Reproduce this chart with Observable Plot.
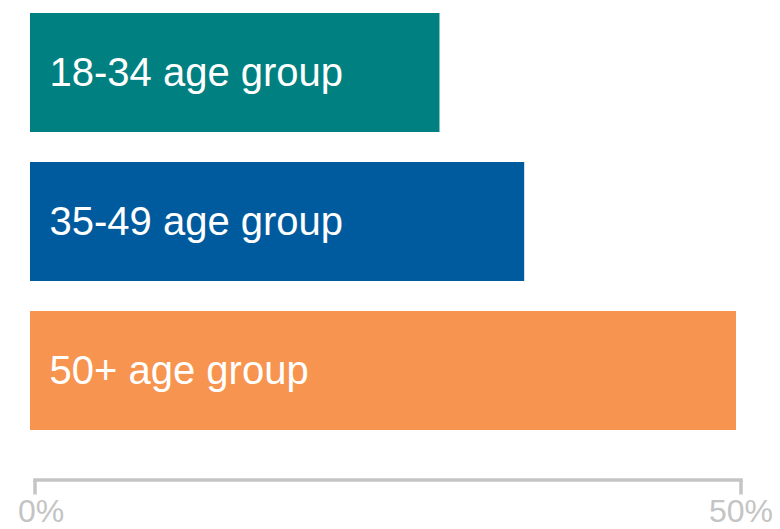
<!DOCTYPE html>
<html>
<head>
<meta charset="utf-8">
<script src="https://cdn.jsdelivr.net/npm/d3@7"></script>
<script src="https://cdn.jsdelivr.net/npm/@observablehq/plot@0.6"></script>
<style>
  html, body { margin: 0; padding: 0; background: #fff; }
</style>
</head>
<body>
<div id="chart"></div>
<script>
const groups = ["18-34 age group", "35-49 age group", "50+ age group"];
const shares = [29, 35, 50];
const colors = ["#008080", "#005b9e", "#f79550"];
const xTicks = [0, 50];

const data = groups.map((g, i) => ({group: g, share: shares[i]}));
const fmt = d => d + "%";
const grey = "#c4c4c4";

const chart = Plot.plot({
  width: 780,
  height: 529,
  marginTop: 0,
  marginLeft: 30,
  marginRight: 44,
  marginBottom: 49.5,
  style: {fontFamily: "'Liberation Sans', Arial, sans-serif", background: "#fff"},
  x: {domain: [0, 50]},
  y: {domain: groups, range: [12, 431], paddingInner: 0.2, paddingOuter: 0, axis: null},
  color: {domain: groups, range: colors},
  marks: [
    Plot.barX(data, {x: "share", y: "group", fill: "group"}),
    Plot.text(data, {x: 0, y: "group", text: "group", textAnchor: "start", dx: 19, fill: "white", fontSize: 40}),
    Plot.frame({anchor: "bottom", stroke: grey, strokeWidth: 3.5, dx: 4.5}),
    Plot.axisX({ticks: xTicks, tickFormat: () => "", tickSize: 15, dx: 4.5,
      stroke: grey, strokeWidth: 3.5, label: null}),
    Plot.axisX({ticks: [xTicks[0]], tickFormat: fmt, tickSize: 0, tickPadding: 19, dx: 10.5,
      fill: grey, fontSize: 32, label: null}),
    Plot.axisX({ticks: [xTicks[1]], tickFormat: fmt, tickSize: 0, tickPadding: 19, dx: 4.5,
      fill: grey, fontSize: 32, label: null})
  ]
});
document.getElementById("chart").appendChild(chart);
</script>
</body>
</html>
